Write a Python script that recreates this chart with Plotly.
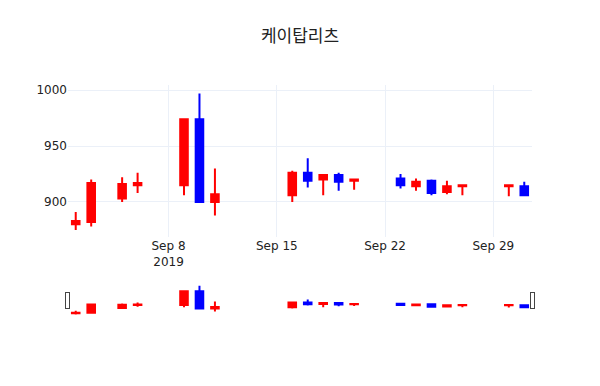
import plotly.graph_objects as go

dates = ["2019-09-02", "2019-09-03", "2019-09-05", "2019-09-06",
         "2019-09-09", "2019-09-10", "2019-09-11",
         "2019-09-16", "2019-09-17", "2019-09-18", "2019-09-19", "2019-09-20",
         "2019-09-23", "2019-09-24", "2019-09-25", "2019-09-26", "2019-09-27",
         "2019-09-30", "2019-10-01"]
opens = [880, 882, 903, 915, 915, 974, 900, 906, 926, 920, 924, 919, 921, 914, 919, 909, 914, 914, 914]
highs = [891, 920, 922, 926, 974, 997, 930, 928, 939, 924, 926, 920, 925, 921, 920, 919, 915, 915, 918]
lows = [875, 878, 900, 908, 906, 900, 888, 900, 913, 906, 910, 911, 912, 910, 906, 907, 906, 905, 906]
closes = [883, 917, 916, 917, 974, 900, 907, 926, 919, 924, 918, 920, 915, 918, 908, 914, 915, 915, 906]

fig = go.Figure(go.Candlestick(
    x=dates, open=opens, high=highs, low=lows, close=closes,
    increasing=dict(line=dict(color="red"), fillcolor="red"),
    decreasing=dict(line=dict(color="blue"), fillcolor="blue"),
    showlegend=False,
))

fig.update_layout(
    template="plotly_white",
    width=600, height=386,
    title=dict(text="케이탑리츠", x=0.5, xanchor="center",
               y=1 - 36 / 386, yref="container", yanchor="middle",
               font=dict(family="Noto Sans CJK KR", size=17, color="#222")),
    margin=dict(l=68, r=68, t=85, b=70),
    font=dict(family="Verdana, DejaVu Sans", color="#222"),
    xaxis=dict(rangeslider=dict(visible=True, thickness=0.14)),
    yaxis=dict(range=[868.7, 1004.5]),
)

fig.write_html("out.html")
